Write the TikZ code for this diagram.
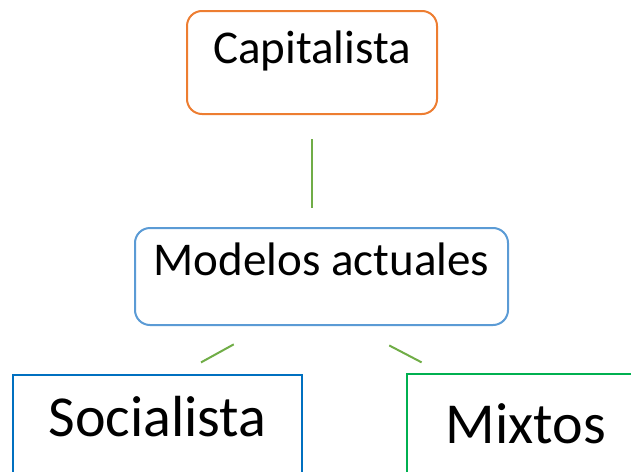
\documentclass[tikz,border=0pt]{standalone}
\usepackage{fontspec}
\setmainfont{Carlito}
\usepackage{tikz}

\definecolor{boxorange}{HTML}{ED7D31}
\definecolor{boxblue}{HTML}{5B9BD5}
\definecolor{darkblue}{HTML}{0070C0}
\definecolor{boxgreen}{HTML}{00B050}
\definecolor{linegreen}{HTML}{70AD47}

\begin{document}
\begin{tikzpicture}[x=1pt, y=-1pt,
    topbox/.style={draw, line width=2pt, rounded corners=15pt, inner sep=0pt, anchor=north,
      font=\fontsize{47}{51}\selectfont},
    lowbox/.style={draw, inner sep=0pt, anchor=north, font=\fontsize{58}{62}\selectfont},
    link/.style={draw=linegreen, line width=2pt}]
    \useasboundingbox (0,0) rectangle (631,471);
    % boxes
    \node (cap) at (312,10)[topbox, draw=boxorange, minimum width=250pt,
      text height=52pt, text depth=51pt]{Capitalista};
    \node (mod) at (321.5,227)[topbox, draw=boxblue, minimum width=373pt,
      text height=47pt, text depth=50pt, font=\fontsize{47}{51}\selectfont]{Modelos actuales};
    \node (soc) at (157.5,374)[lowbox, draw=darkblue, line width=1.5pt, minimum width=289pt,
      text height=62pt, text depth=60pt]{Socialista};
    \node (mix) at (526,373)[lowbox, draw=boxgreen, line width=2pt, minimum width=238pt,
      text height=69pt, text depth=60pt]{Mixtos};
    % links
    \draw [link, shorten <=24pt, shorten >=19pt] (cap.south) -- (cap.south |- mod.north);
    \draw [link, shorten <=38pt, shorten >=24pt] ([xshift=-54.5pt]mod.south) -- ([xshift=22.5pt]soc.north);
    \draw [link, shorten <=42pt, shorten >=23pt] ([xshift=30.5pt]mod.south) -- ([xshift=-84pt]mix.north);
\end{tikzpicture}
\end{document}
